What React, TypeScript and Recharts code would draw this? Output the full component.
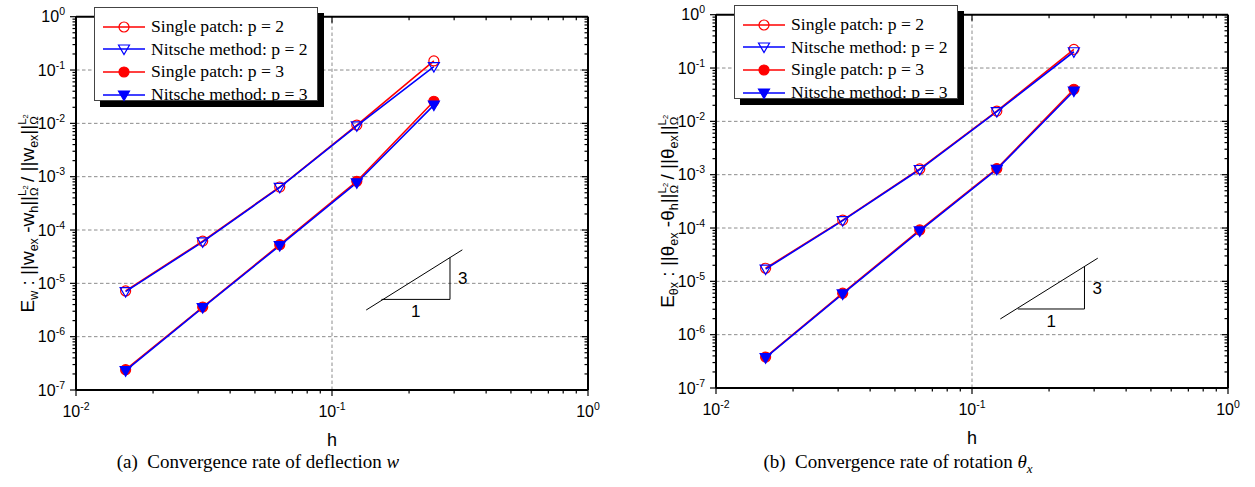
import { LineChart, Line, XAxis, YAxis, ReferenceLine, Legend } from 'recharts';

// mesh size h = 1/64 ... 1/4
const hValues = [0.015625, 0.03125, 0.0625, 0.125, 0.25];

// (a) deflection error
const wSingleP2 = [7.2e-6, 6.2e-5, 6.4e-4, 9.3e-3, 0.148];
const wNitscheP2 = [7.0e-6, 6.0e-5, 6.3e-4, 9.0e-3, 0.116];
const wSingleP3 = [2.4e-7, 3.6e-6, 5.3e-5, 8.2e-4, 0.026];
const wNitscheP3 = [2.3e-7, 3.5e-6, 5.1e-5, 7.7e-4, 0.022];

// (b) rotation error
const tSingleP2 = [1.76e-5, 1.41e-4, 1.28e-3, 1.56e-2, 0.224];
const tNitscheP2 = [1.7e-5, 1.38e-4, 1.25e-3, 1.52e-2, 0.202];
const tSingleP3 = [3.8e-7, 6.0e-6, 9.2e-5, 1.3e-3, 0.04];
const tNitscheP3 = [3.7e-7, 5.8e-6, 8.8e-5, 1.26e-3, 0.037];

const seriesNames = ['Single patch: p = 2', 'Nitsche method: p = 2', 'Single patch: p = 3', 'Nitsche method: p = 3'];

const xMajorTicks = [0.01, 0.1, 1];
const yMajorTicks = [1e-7, 1e-6, 1e-5, 1e-4, 1e-3, 1e-2, 1e-1, 1];
const yGridLines = [1e-6, 1e-5, 1e-4, 1e-3, 1e-2, 1e-1];
const xGridLines = [0.1];

// slope triangle (rate 3), in data units: [h, error]
const wTriangle = { hyp: [[0.136, 3.16e-6], [0.323, 4.25e-5]], base: [[0.156, 5.0e-6], [0.289, 5.0e-6]], rise: [[0.289, 5.0e-6], [0.289, 3.05e-5]] };
const tTriangle = { hyp: [[0.129, 1.97e-6], [0.31, 2.72e-5]], base: [[0.151, 3.03e-6], [0.275, 3.03e-6]], rise: [[0.275, 3.03e-6], [0.275, 1.91e-5]] };

const RED = '#ff0000';
const BLUE = '#0000ff';
const SERIF = '"Liberation Serif", "Times New Roman", serif';

const withMinors = (majors: number[]) => {
  const out: number[] = [];
  majors.forEach((m, i) => {
    out.push(m);
    if (i < majors.length - 1) for (let k = 2; k <= 9; k++) out.push(m * k);
  });
  return out;
};
const xTicks = withMinors(xMajorTicks);
const yTicks = withMinors(yMajorTicks);

const isMajor = (v: number) => Math.abs(Math.log10(v) - Math.round(Math.log10(v))) < 1e-6;
const expOf = (v: number) => Math.round(Math.log10(v));

const Pow = ({ x, y, v, anchor }: any) => (
  <text x={x} y={y} textAnchor={anchor} fontSize={16} fill="#000">
    10<tspan dy={-7} fontSize={10.5}>{expOf(v)}</tspan>
  </text>
);

const MAJ = 6;
const MIN = 3.5;

const LeftTick = (p: any) => {
  const m = isMajor(p.payload.value);
  return (
    <g>
      <line x1={p.x} y1={p.y} x2={p.x - (m ? MAJ : MIN)} y2={p.y} stroke="#000" strokeWidth={1.2} />
      {m && <Pow x={p.x - 11} y={p.y + 5.5} v={p.payload.value} anchor="end" />}
    </g>
  );
};
const RightTick = (p: any) => {
  const m = isMajor(p.payload.value);
  return <line x1={p.x} y1={p.y} x2={p.x - (m ? MAJ : MIN)} y2={p.y} stroke="#000" strokeWidth={1.2} />;
};
const BottomTick = (p: any) => {
  const m = isMajor(p.payload.value);
  return (
    <g>
      <line x1={p.x} y1={p.y} x2={p.x} y2={p.y + (m ? MAJ : MIN)} stroke="#000" strokeWidth={1.2} />
      {m && <Pow x={p.x} y={p.y + 27} v={p.payload.value} anchor="middle" />}
    </g>
  );
};
const TopTick = (p: any) => {
  const m = isMajor(p.payload.value);
  return <line x1={p.x} y1={p.y} x2={p.x} y2={p.y + (m ? MAJ : MIN)} stroke="#000" strokeWidth={1.2} />;
};

const TriShape = ({ cx, cy, color, filled }: any) => {
  if (cx == null || cy == null) return null;
  const pts = `${cx - 5.5},${cy - 4} ${cx + 5.5},${cy - 4} ${cx},${cy + 5.5}`;
  return <polygon points={pts} fill={filled ? color : 'none'} stroke={color} strokeWidth={1.2} />;
};

const styles = [
  { color: RED, marker: 'circle', filled: false },
  { color: BLUE, marker: 'tri', filled: false },
  { color: RED, marker: 'circle', filled: true },
  { color: BLUE, marker: 'tri', filled: true },
];

const Marker = ({ cx, cy, s }: any) =>
  s.marker === 'circle' ? (
    <circle cx={cx} cy={cy} r={5} fill={s.filled ? s.color : 'none'} stroke={s.color} strokeWidth={1.2} />
  ) : (
    <TriShape cx={cx} cy={cy} color={s.color} filled={s.filled} />
  );

const LegendBox = () => (
  <div
    style={{
      background: '#fff',
      border: '1px solid #444',
      boxShadow: '6px 6px 0 #000',
      width: 224,
      height: 94,
      boxSizing: 'border-box',
      paddingTop: 7,
      fontFamily: SERIF,
      fontSize: 17.6,
      color: '#000',
    }}
  >
    {seriesNames.map((name, i) => (
      <div key={name} style={{ display: 'flex', alignItems: 'center', height: 22.8 }}>
        <svg width={56} height={22} style={{ flex: 'none' }}>
          <line x1={8} x2={50} y1={11} y2={11} stroke={styles[i].color} strokeWidth={1.6} />
          <Marker cx={29} cy={11} s={styles[i]} />
        </svg>
        <span style={{ whiteSpace: 'nowrap', lineHeight: 1, fontFamily: SERIF, fontSize: 17.6 }}>{name}</span>
      </div>
    ))}
  </div>
);

const SupSub = () => (
  <>
    <tspan dy={-8} fontSize={11.5}>L</tspan>
    <tspan dy={2} fontSize={7.5}>2</tspan>
    <tspan dx={-10.5} dy={10} fontSize={11.5}>Ω</tspan>
  </>
);

const YLabel = ({ viewBox, sym, sub }: any) => {
  const x = viewBox.x + 18;
  const y = viewBox.y + viewBox.height / 2 + 10;
  return (
    <text transform={`translate(${x},${y}) rotate(-90)`} textAnchor="middle" fontSize={19} fill="#000">
      <tspan>E</tspan>
      <tspan dy={4} fontSize={12.5}>{sub}</tspan>
      <tspan dy={-4}>{` : ||${sym}`}</tspan>
      <tspan dy={4} fontSize={12.5}>ex</tspan>
      <tspan dy={-4}>{` -${sym}`}</tspan>
      <tspan dy={4} fontSize={12.5}>h</tspan>
      <tspan dy={-4}>||</tspan>
      <SupSub />
      <tspan dy={-4}>{` / ||${sym}`}</tspan>
      <tspan dy={4} fontSize={12.5}>ex</tspan>
      <tspan dy={-4}>||</tspan>
      <SupSub />
    </text>
  );
};

const seg = (pts: number[][]) => pts.map(([x, y]) => ({ x, y }));

const ConvergenceChart = ({ series, sym, sub, tri, shiftY, width }: any) => {
  const data = hValues.map((h, i) => ({ h, s2: series[0][i], n2: series[1][i], s3: series[2][i], n3: series[3][i] }));
  const keys = ['s2', 'n2', 's3', 'n3'];
  return (
    <LineChart
      width={width}
      height={487}
      data={data}
      margin={{ top: 10.7 - shiftY, left: 16, right: width - 598, bottom: 67 + shiftY }}
      style={{ fontFamily: '"Liberation Sans", Arial, sans-serif' }}
    >
      <XAxis
        dataKey="h"
        type="number"
        scale="log"
        domain={[0.01, 1]}
        allowDataOverflow
        ticks={xTicks}
        interval={0}
        tickSize={0}
        tickMargin={0}
        tickLine={false}
        tick={BottomTick}
        height={30}
        axisLine={{ stroke: '#000', strokeWidth: 2 }}
        label={{ value: 'h', position: 'bottom', offset: 13, fontSize: 18, fill: '#000' }}
      />
      <XAxis
        xAxisId="t"
        orientation="top"
        dataKey="h"
        type="number"
        scale="log"
        domain={[0.01, 1]}
        allowDataOverflow
        ticks={xTicks}
        interval={0}
        tickSize={0}
        tickMargin={0}
        tickLine={false}
        tick={TopTick}
        height={6}
        axisLine={{ stroke: '#000', strokeWidth: 2 }}
      />
      <YAxis
        type="number"
        scale="log"
        domain={[1e-7, 1]}
        allowDataOverflow
        ticks={yTicks}
        interval={0}
        tickSize={0}
        tickMargin={0}
        tickLine={false}
        tick={LeftTick}
        width={60}
        axisLine={{ stroke: '#000', strokeWidth: 2 }}
        label={{ content: (p: any) => <YLabel viewBox={p.viewBox} sym={sym} sub={sub} /> }}
      />
      <YAxis
        yAxisId="r"
        orientation="right"
        type="number"
        scale="log"
        domain={[1e-7, 1]}
        allowDataOverflow
        ticks={yTicks}
        interval={0}
        tickSize={0}
        tickMargin={0}
        tickLine={false}
        tick={RightTick}
        width={10}
        axisLine={{ stroke: '#000', strokeWidth: 2 }}
      />
      {yGridLines.map((v) => (
        <ReferenceLine key={`gy${v}`} y={v} stroke="#8c8c8c" strokeDasharray="3.5 2.5" />
      ))}
      {xGridLines.map((v) => (
        <ReferenceLine key={`gx${v}`} x={v} stroke="#8c8c8c" strokeDasharray="3.5 2.5" />
      ))}
      <ReferenceLine segment={seg(tri.hyp)} stroke="#000" strokeWidth={1} ifOverflow="visible" />
      <ReferenceLine
        segment={seg(tri.base)}
        stroke="#000"
        strokeWidth={1}
        ifOverflow="visible"
        label={{ value: '1', position: 'bottom', offset: 6, fontSize: 17, fill: '#000' }}
      />
      <ReferenceLine
        segment={seg(tri.rise)}
        stroke="#000"
        strokeWidth={1}
        ifOverflow="visible"
        label={{ value: '3', position: 'right', offset: 8, fontSize: 17, fill: '#000' }}
      />
      {keys.map((k, i) => (
        <Line
          key={k}
          dataKey={k}
          name={seriesNames[i]}
          stroke={styles[i].color}
          strokeWidth={1.6}
          isAnimationActive={false}
          dot={(p: any) => <Marker key={`${k}-${p.index}`} cx={p.cx} cy={p.cy} s={styles[i]} />}
          activeDot={false}
        />
      ))}
      <Legend
        layout="horizontal"
        verticalAlign="middle"
        align="center"
        content={() => <LegendBox />}
        wrapperStyle={{ left: 94, top: 7.3 - shiftY, width: 'auto', height: 'auto' }}
      />
    </LineChart>
  );
};

const captionStyle: any = {
  position: 'absolute',
  top: 451,
  width: 400,
  textAlign: 'center',
  fontFamily: SERIF,
  fontSize: 19,
  color: '#000',
  whiteSpace: 'nowrap',
};

export default function App() {
  return (
    <div style={{ position: 'absolute', left: 0, top: 0, width: 1255, height: 487, background: '#fff', overflow: 'hidden' }}>
      <div style={{ position: 'absolute', left: 0, top: 0 }}>
        <ConvergenceChart series={[wSingleP2, wNitscheP2, wSingleP3, wNitscheP3]} sym="w" sub="w" tri={wTriangle} shiftY={0} width={627} />
      </div>
      <div style={{ position: 'absolute', left: 640, top: 0 }}>
        <ConvergenceChart series={[tSingleP2, tNitscheP2, tSingleP3, tNitscheP3]} sym="θ" sub="θx" tri={tTriangle} shiftY={2} width={615} />
      </div>
      <div style={{ ...captionStyle, left: 58 }}>
        (a)&nbsp; Convergence rate of deflection <i>w</i>
      </div>
      <div style={{ ...captionStyle, left: 698 }}>
        (b)&nbsp; Convergence rate of rotation <i>θ</i>
        <sub style={{ fontSize: 13 }}>
          <i>x</i>
        </sub>
      </div>
    </div>
  );
}
